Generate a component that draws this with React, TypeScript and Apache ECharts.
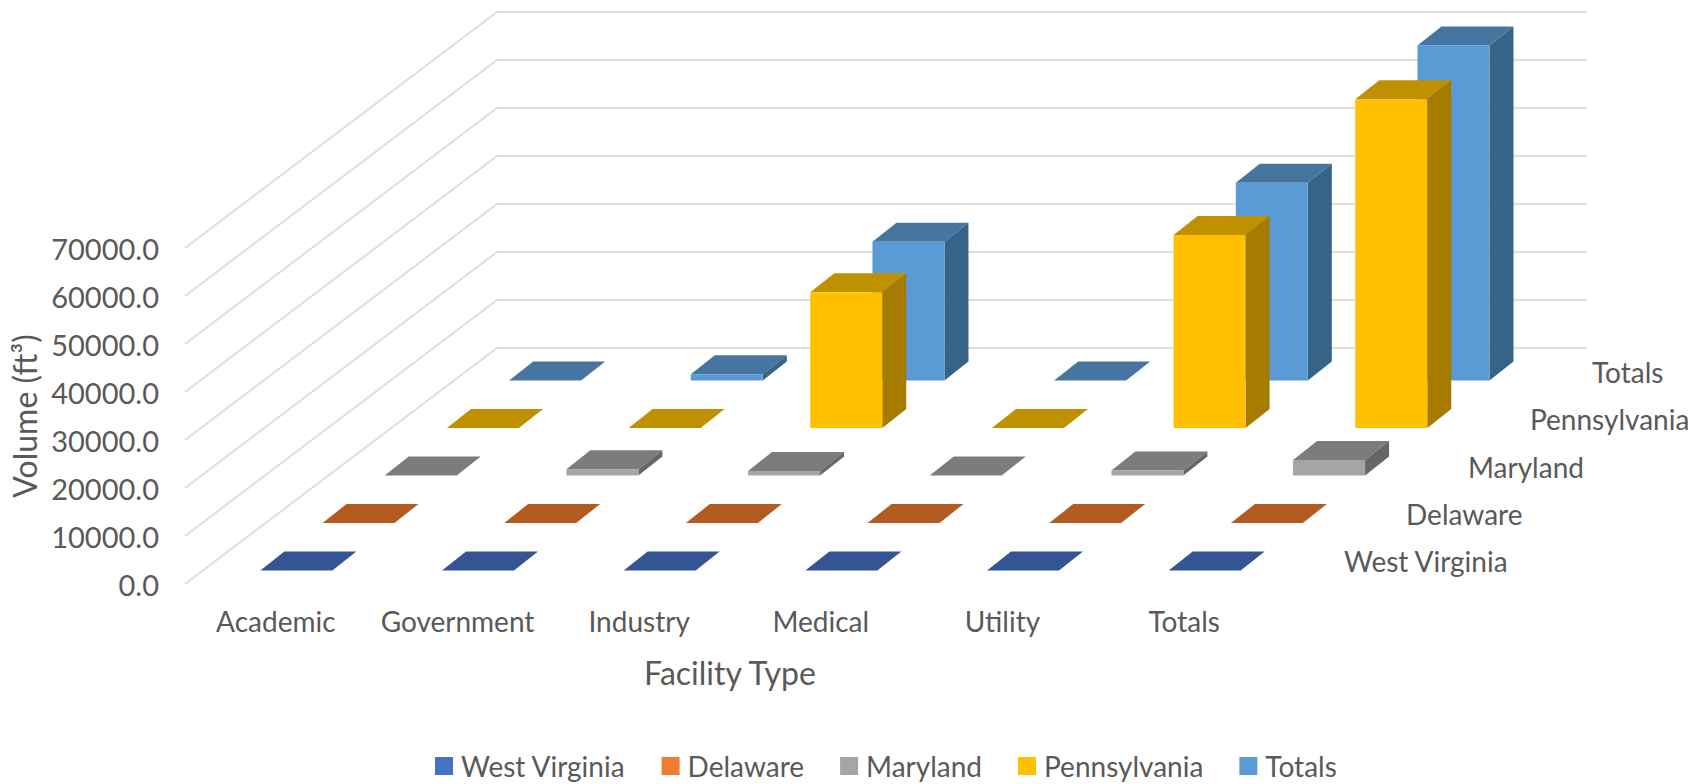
import React, { useEffect, useRef } from "react";
import * as echarts from "echarts";

const categories = ["Academic", "Government", "Industry", "Medical", "Utility", "Totals"];
const seriesNames = ["West Virginia", "Delaware", "Maryland", "Pennsylvania", "Totals"];
const westVirginia = [0, 0, 0, 0, 0, 0];
const delaware = [0, 0, 0, 0, 0, 0];
const maryland = [0, 1300, 950, 0, 1050, 3250];
const pennsylvania = [0, 0, 28300, 0, 40200, 68500];
const totals = [0, 1300, 28900, 0, 41200, 69800];
const yTicks = [0, 10000, 20000, 30000, 40000, 50000, 60000, 70000];

const seriesValues = [westVirginia, delaware, maryland, pennsylvania, totals];
const faceColors = [
  { front: "#4472C4", top: "#335593", side: "#2A4A80" },
  { front: "#ED7D31", top: "#B35C22", side: "#96501E" },
  { front: "#A5A5A5", top: "#7C7C7C", side: "#666666" },
  { front: "#FFC000", top: "#BF9000", side: "#A57C00" },
  { front: "#5B9BD5", top: "#4675A0", side: "#376387" },
];

// Oblique projection constants
const WALL_DX = 312;
const WALL_DY = -236;
const ROW_DX = 62.2;
const ROW_DY = -47.5;
const BAR_W = 72;
const BAR_DX = 24;
const BAR_DY = -19;
const ROW_OFFSET_X = 20.5;
const ROW_OFFSET_Y = -13.5;
const TEXT = "#595959";
const FONT = "Lato";
const FONT_SIZE = 28;

const barSeries = (s: number) => ({
  type: "custom",
  name: seriesNames[s],
  xAxisIndex: 0,
  yAxisIndex: 0,
  silent: true,
  clip: false,
  itemStyle: { color: faceColors[s].front },
  encode: { x: 0, y: 1 },
  data: seriesValues[s].map((v, c) => [c, v]),
  renderItem: (_p: any, api: any) => {
    const c = api.value(0);
    const v = api.value(1);
    const top = api.coord([c, v]);
    const base = api.coord([c, 0]);
    const x0 = top[0] + ROW_OFFSET_X + s * ROW_DX - BAR_W / 2;
    const x1 = x0 + BAR_W;
    const lift = ROW_OFFSET_Y + s * ROW_DY;
    const yb = base[1] + lift;
    const yt = top[1] + lift;
    const col = faceColors[s];
    const children: any[] = [];
    children.push({
      type: "polygon",
      shape: { points: [[x0, yt], [x1, yt], [x1 + BAR_DX, yt + BAR_DY], [x0 + BAR_DX, yt + BAR_DY]] },
      style: { fill: col.top },
    });
    if (yb - yt > 0.5) {
      children.push({
        type: "polygon",
        shape: { points: [[x1, yb], [x1 + BAR_DX, yb + BAR_DY], [x1 + BAR_DX, yt + BAR_DY], [x1, yt]] },
        style: { fill: col.side },
      });
      children.push({
        type: "rect",
        shape: { x: x0, y: yt, width: BAR_W, height: yb - yt },
        style: { fill: col.front },
      });
    }
    return { type: "group", children };
  },
});

const wallSeries = {
  type: "custom",
  name: "walls",
  silent: true,
  clip: false,
  z: 0,
  encode: { y: 1 },
  data: yTicks.map((t) => [0, t]),
  renderItem: (_p: any, api: any) => {
    const t = api.value(1);
    const band = api.size([1, 0])[0];
    const left = api.coord([0, t]);
    const right = api.coord([categories.length - 1, t]);
    const xa = left[0] - band / 2;
    const xb = right[0] + band / 2;
    return {
      type: "polyline",
      shape: {
        points: [
          [xa, left[1]],
          [xa + WALL_DX, left[1] + WALL_DY],
          [xb + WALL_DX, left[1] + WALL_DY],
        ],
      },
      style: { fill: "none", stroke: "#DEDEDE", lineWidth: 2 },
    };
  },
};

const depthAxisSeries = {
  type: "custom",
  name: "depthAxis",
  silent: true,
  clip: false,
  encode: { x: 0, y: 1 },
  data: seriesNames.map((_n, s) => [categories.length - 1, 0, s]),
  renderItem: (_p: any, api: any) => {
    const s = api.value(2);
    const band = api.size([1, 0])[0];
    const p = api.coord([api.value(0), api.value(1)]);
    return {
      type: "text",
      x: p[0] + band / 2 + 69 + s * 62,
      y: p[1] - 23 - s * 47.2,
      style: {
        text: seriesNames[s],
        fill: TEXT,
        font: `${FONT_SIZE}px ${FONT}`,
        align: "left",
        verticalAlign: "middle",
      },
    };
  },
};

export default function App() {
  const ref = useRef<HTMLDivElement>(null);
  useEffect(() => {
    const chart = echarts.init(ref.current!, undefined, { renderer: "svg" });
    chart.setOption({
      animation: false,
      backgroundColor: "#ffffff",
      textStyle: { fontFamily: FONT },
      grid: { left: 185, top: 248, width: 1090, height: 336, containLabel: false, outerBoundsMode: "none" },
      legend: {
        data: seriesNames,
        left: 430,
        top: 747,
        icon: "rect",
        itemWidth: 18,
        itemHeight: 18,
        itemGap: 36,
        selectedMode: false,
        textStyle: { color: TEXT, fontSize: FONT_SIZE, fontFamily: FONT, padding: [0, 0, 0, 3] },
      },
      xAxis: {
        type: "category",
        data: categories,
        boundaryGap: true,
        axisLine: { show: false },
        axisTick: { show: false },
        axisLabel: { color: TEXT, fontSize: FONT_SIZE, fontFamily: FONT, margin: 23, interval: 0 },
        name: "Facility Type",
        nameLocation: "middle",
        nameGap: 72,
        nameTextStyle: { color: TEXT, fontSize: 32, fontFamily: FONT },
        splitLine: { show: false },
      },
      yAxis: {
        type: "value",
        min: 0,
        max: 70000,
        interval: 10000,
        axisLine: { show: false },
        axisTick: { show: false },
        splitLine: { show: false },
        axisLabel: {
          color: TEXT,
          fontSize: 29,
          fontFamily: FONT,
          margin: 26,
          formatter: (v: number) => v.toFixed(1),
        },
        name: "Volume (ft³)",
        nameLocation: "middle",
        nameGap: 142,
        nameTextStyle: { color: TEXT, fontSize: 32, fontFamily: FONT },
      },
      series: [
        wallSeries,
        barSeries(4),
        barSeries(3),
        barSeries(2),
        barSeries(1),
        barSeries(0),
        depthAxisSeries,
      ],
    });
    return () => chart.dispose();
  }, []);
  return <div ref={ref} style={{ position: "fixed", left: 0, top: 0, width: 1707, height: 784 }} />;
}
